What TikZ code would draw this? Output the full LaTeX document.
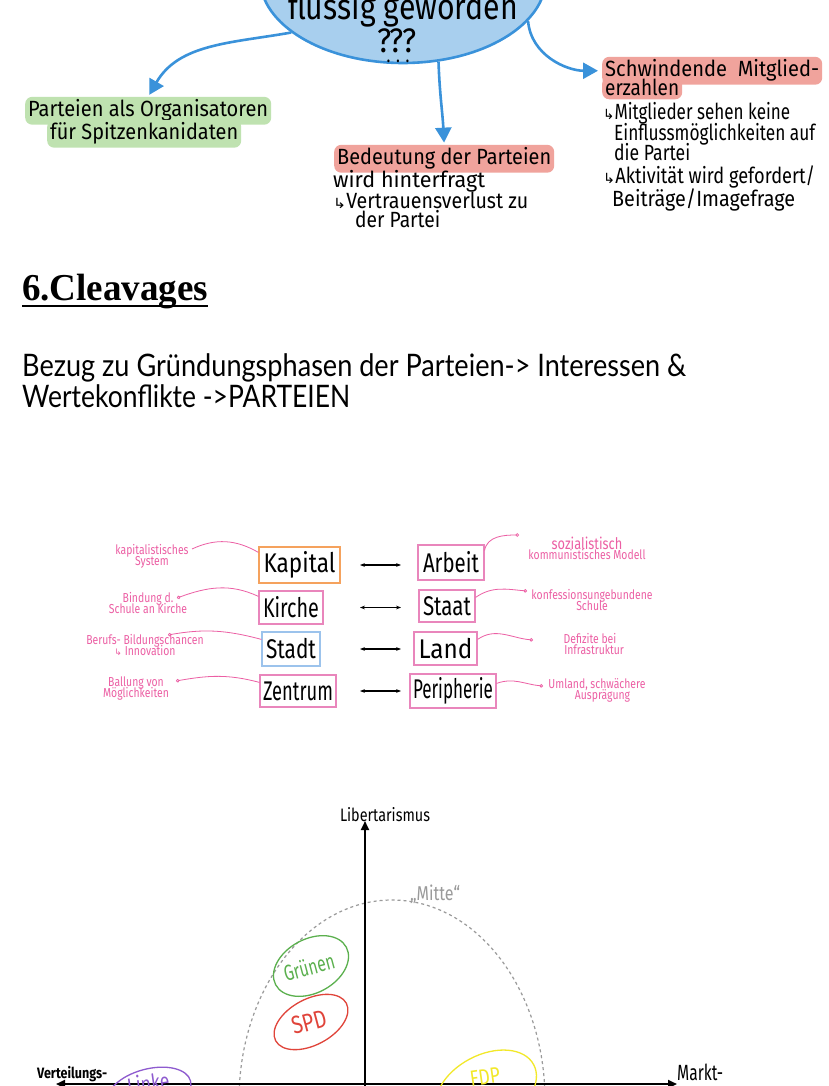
\documentclass[tikz,border=0pt]{standalone}
\usepackage{fontspec}
\usetikzlibrary{arrows.meta,shapes.geometric,calc}
\newfontfamily\hand[FakeStretch=0.8]{Fira Sans}
\newfontfamily\sym{DejaVu Sans}
\newfontfamily\bodyf[FakeStretch=0.85]{Lato}
\newfontfamily\headf{Liberation Serif}
\definecolor{qblue}{HTML}{3A92DA}
\definecolor{qfill}{HTML}{A8CFEE}
\definecolor{hlgreen}{HTML}{BFE2B0}
\definecolor{hlred}{HTML}{F0A39C}
\definecolor{pinkc}{HTML}{EC5FA4}
\definecolor{pinkbox}{HTML}{E986BC}
\definecolor{kaporange}{HTML}{F5A25D}
\definecolor{stadtblue}{HTML}{9CC3EC}
\definecolor{mitgray}{HTML}{9A9A9A}
\definecolor{grgreen}{HTML}{5BB04E}
\definecolor{spdred}{HTML}{E0443A}
\definecolor{linkepurple}{HTML}{8E5BCF}
\definecolor{fdpyellow}{HTML}{F2E829}
\newcommand{\hk}{{\sym\fontsize{14}{14}\selectfont ↳}}
\newcommand{\fitw}[2]{\resizebox{#1}{\height}{#2}}
\tikzset{
  hw/.style={font=\hand\fontsize{22}{22}\selectfont, inner sep=0pt, anchor=base west},
  hl/.style={fill=#1, rounded corners=7pt, inner xsep=3pt, inner ysep=3pt},
  barr/.style={qblue, line width=2.6pt, -{Triangle[length=15pt,width=16pt]}},
  cbox/.style={draw=pinkbox, line width=1.2pt, fill=white, font=\hand\fontsize{27}{27}\selectfont, inner xsep=3pt, inner ysep=0pt, minimum height=33pt},
  note/.style={text=pinkc, font=\hand\fontsize{13}{13}\selectfont, align=center, inner sep=0pt},
  nl/.style={pinkc, line width=0.8pt},
  nlc/.style={pinkc, line width=0.8pt, -{Circle[open,length=3.5pt]}},
  lr/.style={black, line width=1.2pt, {Stealth[length=5pt]}-{Stealth[length=5pt]}},
  party/.style={ellipse, draw=#1, line width=1.3pt, inner sep=0pt},
  ptext/.style={text=#1, font=\hand\fontsize{22}{22}\selectfont, inner sep=0pt},
  axis/.style={black, line width=2pt}
}
\begin{document}
\begin{tikzpicture}[x=1pt,y=1pt]
\useasboundingbox (0,0) rectangle (828,-1086);
\fill[white] (0,0) rectangle (828,-1086);
% ---------- top mind map ----------
\node[ellipse, draw=qblue, fill=qfill, line width=2.6pt, minimum width=286pt, minimum height=170pt] (q) at (403,22) {};
\node[font=\hand\fontsize{36}{36}\selectfont, anchor=base, inner sep=0pt] (q1) at (403,-20) {\fitw{230pt}{flüssig geworden}};
\node[font=\hand\fontsize{34}{34}\selectfont, anchor=base, inner sep=0pt] (q2) at (397,-53) {\fitw{40pt}{???}};
\node[font=\hand\fontsize{20}{20}\selectfont, anchor=base, inner sep=0pt] (q3) at (398,-63) {. . .};

\node[hw, hl=hlgreen] (org1) at (25,-117) {\fitw{240pt}{Parteien als Organisatoren}};
\node[hw, hl=hlgreen] (org2) at (47,-140) {\fitw{188pt}{für Spitzenkanidaten}};

\node[hw, hl=hlred] (bed) at (334,-165) {\fitw{214pt}{Bedeutung der Parteien}};
\node[hw] (bed1) at (333,-188) {\fitw{152pt}{wird hinterfragt}};
\node[hw] (bed2) at (333,-208) {\fitw{195pt}{\hk Vertrauensverlust zu}};
\node[hw] (bed3) at (355,-228) {\fitw{85pt}{der Partei}};

\node[hw, hl=hlred] (sch1) at (602,-77) {\fitw{214pt}{Schwindende\ \ Mitglied-}};
\node[hw, hl=hlred] (sch2) at (602,-96) {\fitw{74pt}{erzahlen}};
\node[hw] (m1) at (603,-120) {\fitw{187pt}{\hk Mitglieder sehen keine}};
\node[hw] (m2) at (614,-141) {\fitw{201pt}{Einflussmöglichkeiten auf}};
\node[hw] (m3) at (614,-161) {\fitw{76pt}{die Partei}};
\node[hw] (m4) at (603,-184) {\fitw{212pt}{\hk Aktivität wird gefordert/}};
\node[hw] (m5) at (612,-207) {\fitw{183pt}{Beiträge/Imagefrage}};

\draw[barr, shorten >=2pt] (q.206) to[out=190,in=60] (org1.north);
\draw[barr, shorten >=2pt] (q.293) to[out=-88,in=93] (bed.north);
\draw[barr, shorten >=4pt] (q.341) to[out=-85,in=180] (sch1.west);

% ---------- heading and text ----------
\node[font=\headf\bfseries\fontsize{38}{38}\selectfont, anchor=base west, inner sep=0pt] (head) at (22,-300) {\fitw{186pt}{6.Cleavages}};
\draw[line width=1.8pt] (head.base west) ++(0,-6) coordinate (ul1) -- (ul1 -| head.base east);
\node[font=\bodyf\fontsize{31}{31}\selectfont, anchor=base west, inner sep=0pt] (t1) at (22,-376) {\fitw{664pt}{Bezug zu Gründungsphasen der Parteien-> Interessen \&}};
\node[font=\bodyf\fontsize{31}{31}\selectfont, anchor=base west, inner sep=0pt] (t2) at (22,-407) {\fitw{328pt}{Wertekonflikte ->PARTEIEN}};

% ---------- cleavages ----------
\node[cbox, draw=kaporange, minimum width=81pt, minimum height=36pt] (kap) at (299.5,-565) {\fitw{72pt}{Kapital}};
\node[cbox, minimum width=66pt, minimum height=35pt] (arb) at (451,-562.5) {\fitw{56pt}{Arbeit}};
\node[cbox, minimum width=64pt] (kir) at (291,-607.5) {\fitw{56pt}{Kirche}};
\node[cbox, minimum width=56pt, minimum height=32pt] (staat) at (447,-606) {\fitw{48pt}{Staat}};
\node[cbox, draw=stadtblue, minimum width=58pt, minimum height=34pt] (sta) at (291,-649) {\fitw{50pt}{Stadt}};
\node[cbox, minimum width=63pt] (land) at (445.5,-648.5) {\fitw{54pt}{Land}};
\node[cbox, minimum width=76pt, minimum height=32pt] (zen) at (298,-691) {\fitw{70pt}{Zentrum}};
\node[cbox, minimum width=86pt, minimum height=34pt] (per) at (453,-691) {\fitw{80pt}{Peripherie}};

\coordinate (xl) at (360,0);
\coordinate (xr) at (401,0);
\draw[lr] (xl |- kap.east) -- (xr |- kap.east);
\draw[lr] (xl |- kir.east) -- (xr |- kir.east);
\draw[lr] (xl |- sta.east) -- (xr |- sta.east);
\draw[lr] (xl |- zen.east) -- (xr |- zen.east);

\node[note] (n1) at (152,-556) {kapitalistisches\\[-2pt]System};
\node[note] (n2) at (148,-603) {Bindung d.\\[-2pt]Schule an Kirche};
\node[note] (n3) at (145,-645) {Berufs- Bildungschancen\\[-2pt]{\sym\fontsize{9}{9}\selectfont ↳} Innovation};
\node[note] (n4) at (136,-689) {Ballung von\\[-2pt]Möglichkeiten};
\node[note] (n5) at (587,-548) {{\fontsize{16}{16}\selectfont sozialistisch}\\[-3pt]kommunistisches Modell};
\node[note] (n6) at (592,-600) {konfessionsungebundene\\[-2pt]Schule};
\node[note] (n7) at (590,-644) {Defizite bei\\[-2pt]\ \ \ Infrastruktur};
\node[note] (n8) at (597,-690) {Umland, schwächere\\[-2pt]\ \ \ \ Ausprägung};

\coordinate (c1) at (192,-549);
\coordinate (c2) at (177,-598);
\coordinate (c3) at (168,-635);
\coordinate (c4) at (176,-681);
\coordinate (c5) at (519,-535);
\coordinate (c6) at (527,-591);
\coordinate (c7) at (533,-640);
\coordinate (c8) at (543,-686);
\draw[nl] ([yshift=-6pt]kap.north west) to[out=150,in=25] (c1);
\draw[nlc] ([yshift=-6pt]kir.north west) to[out=155,in=20] (c2);
\draw[nlc] ([yshift=-8pt]sta.north west) to[out=165,in=10] (c3);
\draw[nlc] ([yshift=-8pt]zen.north west) to[out=165,in=10] (c4);
\draw[nlc] ([yshift=-6pt]arb.north east) to[out=80,in=180] (c5);
\draw[nlc] ([yshift=-8pt]staat.north east) to[out=35,in=175] (c6);
\draw[nlc] ([yshift=-8pt]land.north east) to[out=35,in=175] (c7);
\draw[nlc] ([yshift=-10pt]per.north east) to[out=20,in=175] (c8);

% ---------- political map ----------
\coordinate (vb) at (365,-1095);
\coordinate (vt) at (365,-821);
\coordinate (hlft) at (56,-1084);
\coordinate (hrgt) at (677,-1084);
\node[ellipse, draw=mitgray, dashed, line width=1.2pt, minimum width=306pt, minimum height=400pt] (mitte) at (392,-1100) {};
\draw[axis, -{Triangle[length=9pt,width=8pt]}] (vb) -- (vt);
\draw[axis, {Triangle[length=9pt,width=8pt]}-{Triangle[length=9pt,width=8pt]}] (hlft) -- (hrgt);
\node[font=\hand\fontsize{18}{18}\selectfont, anchor=base, inner sep=0pt] (lib) at (385,-821) {\fitw{90pt}{Libertarismus}};
\node[font=\hand\fontsize{20}{20}\selectfont, text=mitgray, anchor=base west, inner sep=0pt] (mt) at (410,-900) {„Mitte“};
\node[font=\hand\bfseries\fontsize{15}{15}\selectfont, anchor=base west, inner sep=0pt] (vert) at (37,-1078) {\fitw{70pt}{Verteilungs-}};
\node[font=\hand\fontsize{22}{22}\selectfont, anchor=base west, inner sep=0pt] (markt) at (677,-1080) {\fitw{46pt}{Markt-}};

\node[party=grgreen, minimum width=80pt, minimum height=54pt, rotate=28] (gr) at (311,-966) {};
\node[ptext=grgreen, rotate=15] (grt) at (309,-967) {\fitw{52pt}{Grünen}};
\node[party=spdred, minimum width=80pt, minimum height=46pt, rotate=28] (spd) at (311,-1022) {};
\node[ptext=spdred, rotate=15, font=\hand\fontsize{25}{25}\selectfont] (spdt) at (309,-1022) {SPD};
\node[party=linkepurple, minimum width=86pt, minimum height=46pt, rotate=15] (li) at (149,-1092) {};
\node[ptext=linkepurple, anchor=north, rotate=8] (lit) at (147,-1074) {Linke};
\node[party=fdpyellow, minimum width=108pt, minimum height=70pt, rotate=28] (fdp) at (486,-1090) {};
\node[ptext=fdpyellow, anchor=north, rotate=8] (fdpt) at (484,-1069) {FDP};
\end{tikzpicture}
\end{document}
